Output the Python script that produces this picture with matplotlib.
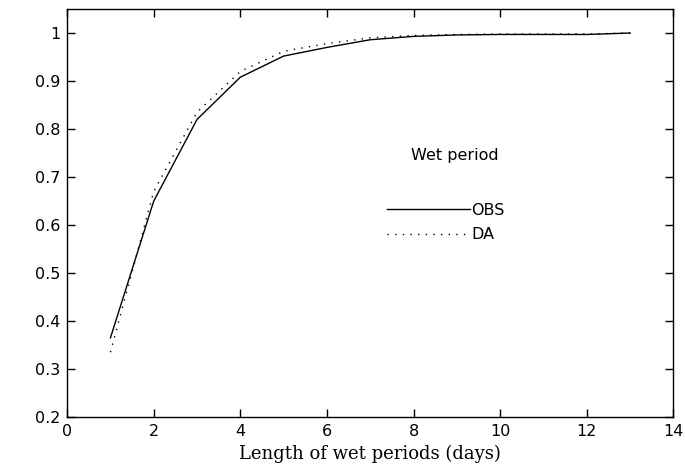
import matplotlib
matplotlib.use("Agg")
import matplotlib.pyplot as plt

# cumulative probability of wet period length
days = [1, 2, 3, 4, 5, 6, 7, 8, 9, 10, 11, 12, 13]
obs = [0.365, 0.65, 0.82, 0.908, 0.952, 0.970, 0.986, 0.993, 0.996, 0.997, 0.997, 0.997, 1.0]
da = [0.335, 0.67, 0.835, 0.92, 0.962, 0.978, 0.990, 0.995, 0.997, 0.998, 0.998, 0.998, 1.0]

xticks = [0, 2, 4, 6, 8, 10, 12, 14]
yticks = [0.2, 0.3, 0.4, 0.5, 0.6, 0.7, 0.8, 0.9, 1.0]
yticklabels = ["0.2", "0.3", "0.4", "0.5", "0.6", "0.7", "0.8", "0.9", "1"]

plt.rcParams['font.family'] = ['DejaVu Sans']

fig = plt.figure(figsize=(6.85, 4.75), dpi=100)
ax = fig.add_axes([0.098, 0.122, 0.885, 0.859])

ax.plot(days, obs, color='black', linewidth=1.0, linestyle='-', label='OBS')
ax.plot(days, da, color='black', linewidth=1.0, linestyle=(0, (1, 4.5)), label='DA')

ax.set_xlim(0, 14)
ax.set_ylim(0.2, 1.05)
ax.set_xticks(xticks)
ax.set_yticks(yticks)
ax.set_yticklabels(yticklabels)
ax.tick_params(direction='in', length=6, width=1, top=True, right=True,
               labelsize=11.5, pad=5)
for s in ax.spines.values():
    s.set_linewidth(1.0)

ax.set_xlabel('Length of wet periods (days)', family='DejaVu Serif',
              fontsize=13, labelpad=4)

ax.text(0.568, 0.642, 'Wet period', transform=ax.transAxes, fontsize=11.5,
        ha='left', va='center')

ax.legend(loc='upper left', bbox_to_anchor=(0.527, 0.525), frameon=False,
          handlelength=5.2, handletextpad=0.1, labelspacing=0.6,
          fontsize=11.5, borderaxespad=0, borderpad=0)

fig.savefig('out.png', dpi=100)
